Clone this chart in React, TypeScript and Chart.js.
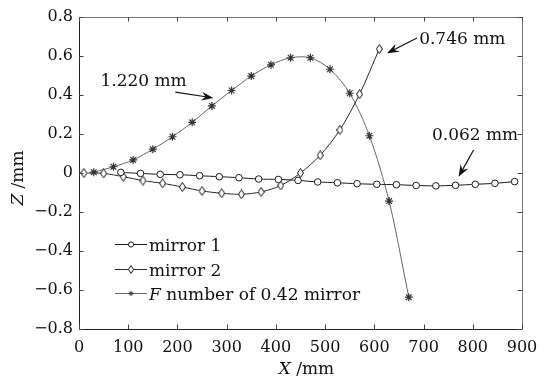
import React, { useEffect, useRef } from "react";
import { Chart, registerables } from "chart.js";

Chart.register(...registerables);

// ---- data ----
const mirror1X = [85, 125, 165, 205, 245, 285, 325, 365, 405, 445, 485, 525, 565, 605, 645, 685, 725, 765, 805, 845, 885];
const mirror1Z = [0.003, -0.002, -0.007, -0.009, -0.014, -0.019, -0.024, -0.031, -0.033, -0.038, -0.046, -0.05, -0.055, -0.058, -0.06, -0.064, -0.066, -0.063, -0.058, -0.053, -0.044];

const mirror2X = [10, 50, 90, 130, 170, 210, 250, 290, 330, 370, 410, 450, 490, 530, 570, 610];
const mirror2Z = [0, -0.002, -0.019, -0.039, -0.053, -0.072, -0.092, -0.104, -0.109, -0.097, -0.064, 0.0, 0.091, 0.221, 0.404, 0.636];

const fNumX = [30, 70, 110, 150, 190, 230, 270, 310, 350, 390, 430, 470, 510, 550, 590, 630, 670];
const fNumZ = [0.004, 0.032, 0.067, 0.122, 0.186, 0.26, 0.344, 0.423, 0.497, 0.555, 0.591, 0.591, 0.532, 0.409, 0.191, -0.144, -0.637];

const xTickValues = [0, 100, 200, 300, 400, 500, 600, 700, 800, 900];
const xTickLabels = ["0", "100", "200", "300", "400", "500", "600", "700", "800", "900"];
const yTickValues = [-0.8, -0.6, -0.4, -0.2, 0, 0.2, 0.4, 0.6, 0.8];
const yTickLabels = ["\u22120.8", "\u22120.6", "\u22120.4", "\u22120.2", "0", "0.2", "0.4", "0.6", "0.8"];

const legendItalic = ["", "", "F"];
const legendText = ["mirror 1", "mirror 2", " number of 0.42 mirror"];

const noteTexts = ["1.220 mm", "0.746 mm", "0.062 mm"];
// text anchor (left, middle) and arrow tail/tip, in data units
const noteTextPos = [[43.5, 0.467], [691, 0.682], [717, 0.19]];
const noteTail = [[195.6, 0.415], [686.7, 0.692], [801.7, 0.118]];
const noteTip = [[272.9, 0.385], [625.8, 0.614], [771.2, -0.019]];

const SERIF = '"DejaVu Serif", serif';

function makeDiamond(w: number, h: number, stroke: string, fill: string) {
  const c = document.createElement("canvas");
  c.width = w;
  c.height = h;
  const ctx = c.getContext("2d")!;
  ctx.beginPath();
  ctx.moveTo(w / 2, 0.5);
  ctx.lineTo(w - 0.5, h / 2);
  ctx.lineTo(w / 2, h - 0.5);
  ctx.lineTo(0.5, h / 2);
  ctx.closePath();
  ctx.fillStyle = fill;
  ctx.fill();
  ctx.strokeStyle = stroke;
  ctx.lineWidth = 1;
  ctx.stroke();
  return c;
}

function drawArrow(ctx: CanvasRenderingContext2D, x1: number, y1: number, x2: number, y2: number) {
  const a = Math.atan2(y2 - y1, x2 - x1);
  const c = Math.cos(a), s = Math.sin(a);
  const L = 12, W = 4.5;
  ctx.beginPath();
  ctx.moveTo(x1, y1);
  ctx.lineTo(x2 - 6 * c, y2 - 6 * s);
  ctx.stroke();
  ctx.beginPath();
  ctx.moveTo(x2, y2);
  ctx.lineTo(x2 - L * c + W * s, y2 - L * s - W * c);
  ctx.lineTo(x2 - 0.65 * L * c, y2 - 0.65 * L * s);
  ctx.lineTo(x2 - L * c - W * s, y2 - L * s + W * c);
  ctx.closePath();
  ctx.fill();
}

function drawStar(ctx: CanvasRenderingContext2D, x: number, y: number, r: number) {
  ctx.beginPath();
  ctx.moveTo(x - r, y);
  ctx.lineTo(x + r, y);
  ctx.moveTo(x, y - r);
  ctx.lineTo(x, y + r);
  const d = r * 0.707;
  ctx.moveTo(x - d, y - d);
  ctx.lineTo(x + d, y + d);
  ctx.moveTo(x - d, y + d);
  ctx.lineTo(x + d, y - d);
  ctx.stroke();
}

const decorPlugin = {
  id: "decor",
  afterDraw(chart: any) {
    const ctx: CanvasRenderingContext2D = chart.ctx;
    const area = chart.chartArea;
    const xs = chart.scales.x;
    const ys = chart.scales.y;
    ctx.save();

    // frame
    ctx.lineWidth = 1;
    ctx.strokeStyle = "#777";
    ctx.beginPath();
    ctx.moveTo(area.left, area.top + 0.5);
    ctx.lineTo(area.right + 0.5, area.top + 0.5);
    ctx.lineTo(area.right + 0.5, area.bottom);
    ctx.stroke();
    ctx.strokeStyle = "#222";
    ctx.beginPath();
    ctx.moveTo(area.left + 0.5, area.top);
    ctx.lineTo(area.left + 0.5, area.bottom + 0.5);
    ctx.lineTo(area.right + 0.5, area.bottom + 0.5);
    ctx.stroke();

    // inward ticks
    const tl = 4.5;
    ctx.strokeStyle = "#444";
    ctx.beginPath();
    xTickValues.forEach((v) => {
      const px = Math.round(xs.getPixelForValue(v)) + 0.5;
      ctx.moveTo(px, area.bottom);
      ctx.lineTo(px, area.bottom - tl);
      ctx.moveTo(px, area.top);
      ctx.lineTo(px, area.top + tl);
    });
    yTickValues.forEach((v) => {
      const py = Math.round(ys.getPixelForValue(v)) + 0.5;
      ctx.moveTo(area.left, py);
      ctx.lineTo(area.left + tl, py);
      ctx.moveTo(area.right, py);
      ctx.lineTo(area.right - tl, py);
    });
    ctx.stroke();

    // axis titles
    ctx.fillStyle = "#111";
    ctx.textBaseline = "middle";
    ctx.font = `italic 17px ${SERIF}`;
    const xi = "X";
    const xr = " /mm";
    const wi = ctx.measureText(xi).width;
    ctx.font = `17px ${SERIF}`;
    const wr = ctx.measureText(xr).width;
    let sx = (area.left + area.right) / 2 + 6 - (wi + wr) / 2;
    ctx.font = `italic 17px ${SERIF}`;
    ctx.textAlign = "left";
    ctx.fillText(xi, sx, 370);
    ctx.font = `17px ${SERIF}`;
    ctx.fillText(xr, sx + wi, 370);

    ctx.save();
    ctx.translate(19, (area.top + area.bottom) / 2 + 5);
    ctx.rotate(-Math.PI / 2);
    ctx.font = `italic 17px ${SERIF}`;
    const zi = "Z";
    const zw = ctx.measureText(zi).width;
    ctx.font = `17px ${SERIF}`;
    const zrw = ctx.measureText(xr).width;
    const zs = -(zw + zrw) / 2;
    ctx.font = `italic 17px ${SERIF}`;
    ctx.fillText(zi, zs, 0);
    ctx.font = `17px ${SERIF}`;
    ctx.fillText(xr, zs + zw, 0);
    ctx.restore();

    // annotations
    ctx.fillStyle = "#111";
    ctx.strokeStyle = "#111";
    ctx.lineWidth = 1.2;
    ctx.font = `17px ${SERIF}`;
    noteTexts.forEach((t, i) => {
      const tx = xs.getPixelForValue(noteTextPos[i][0]);
      const ty = ys.getPixelForValue(noteTextPos[i][1]);
      ctx.fillText(t, tx, ty);
      drawArrow(
        ctx,
        xs.getPixelForValue(noteTail[i][0]),
        ys.getPixelForValue(noteTail[i][1]),
        xs.getPixelForValue(noteTip[i][0]),
        ys.getPixelForValue(noteTip[i][1])
      );
    });

    // legend
    const lx0 = area.left + 36;
    const lx1 = area.left + 68;
    const lm = (lx0 + lx1) / 2;
    const rows = [area.top + 227, area.top + 252, area.top + 276];
    const ds = chart.data.datasets;
    rows.forEach((ry, i) => {
      const d = ds[i];
      ctx.strokeStyle = d.borderColor;
      ctx.lineWidth = 1;
      ctx.beginPath();
      ctx.moveTo(lx0, ry + 0.5);
      ctx.lineTo(lx1, ry + 0.5);
      ctx.stroke();
      ctx.strokeStyle = d.pointBorderColor;
      ctx.fillStyle = "#fff";
      if (i === 0) {
        ctx.beginPath();
        ctx.arc(lm, ry + 0.5, 2.6, 0, Math.PI * 2);
        ctx.fill();
        ctx.stroke();
      } else if (i === 1) {
        ctx.beginPath();
        ctx.moveTo(lm, ry - 3.5);
        ctx.lineTo(lm + 2.5, ry + 0.5);
        ctx.lineTo(lm, ry + 4.5);
        ctx.lineTo(lm - 2.5, ry + 0.5);
        ctx.closePath();
        ctx.fill();
        ctx.stroke();
      } else {
        drawStar(ctx, lm, ry + 0.5, 2.5);
      }
      ctx.fillStyle = "#111";
      ctx.textAlign = "left";
      let tx = lx1 + 2;
      const ty = ry + 3;
      if (legendItalic[i]) {
        ctx.font = `italic 17px ${SERIF}`;
        ctx.fillText(legendItalic[i], tx, ty);
        tx += ctx.measureText(legendItalic[i]).width;
      }
      ctx.font = `17px ${SERIF}`;
      ctx.fillText(legendText[i], tx, ty);
    });

    ctx.restore();
  },
};

export default function App() {
  const ref = useRef<HTMLCanvasElement | null>(null);

  useEffect(() => {
    document.body.style.margin = "0";
    const canvas = ref.current;
    if (!canvas) return;
    const diamond = makeDiamond(7, 10, "#111", "#fff");
    const toPts = (xs: number[], zs: number[]) => xs.map((x, i) => ({ x, y: zs[i] }));

    const chart = new Chart(canvas, {
      type: "line",
      data: {
        datasets: [
          {
            label: "mirror 1",
            data: toPts(mirror1X, mirror1Z),
            borderColor: "#1a1a1a",
            borderWidth: 1,
            pointStyle: "circle",
            pointRadius: 3.3,
            pointBorderWidth: 1,
            pointBorderColor: "#1a1a1a",
            pointBackgroundColor: "#fff",
            tension: 0.3,
          },
          {
            label: "mirror 2",
            data: toPts(mirror2X, mirror2Z),
            borderColor: "#2a2a2a",
            borderWidth: 1,
            pointStyle: diamond as any,
            pointRadius: 4,
            pointBorderColor: "#1a1a1a",
            pointBackgroundColor: "#fff",
            tension: 0.3,
          },
          {
            label: "F number of 0.42 mirror",
            data: toPts(fNumX, fNumZ),
            borderColor: "#666",
            borderWidth: 1,
            pointStyle: "star",
            pointRadius: 4,
            pointBorderWidth: 1.2,
            pointBorderColor: "#333",
            pointBackgroundColor: "#333",
            tension: 0.3,
          },
        ],
      },
      options: {
        animation: false,
        responsive: true,
        maintainAspectRatio: false,
        layout: { padding: { top: 17, right: 31, left: 0, bottom: 0 } },
        plugins: {
          legend: { display: false },
          tooltip: { enabled: false },
        },
        scales: {
          x: {
            type: "linear",
            min: 0,
            max: 900,
            grid: { display: false, drawTicks: false },
            border: { display: false },
            afterBuildTicks: (s: any) => {
              s.ticks = xTickValues.map((v) => ({ value: v }));
            },
            afterFit: (s: any) => {
              s.height = 51;
            },
            ticks: {
              padding: 9,
              color: "#111",
              font: { family: SERIF, size: 16 },
              maxRotation: 0,
              autoSkip: false,
              callback: (_v: any, i: number) => xTickLabels[i],
            },
          },
          y: {
            type: "linear",
            min: -0.8,
            max: 0.8,
            grid: { display: false, drawTicks: false },
            border: { display: false },
            afterBuildTicks: (s: any) => {
              s.ticks = yTickValues.map((v) => ({ value: v }));
            },
            afterFit: (s: any) => {
              s.width = 79;
            },
            ticks: {
              padding: 6,
              color: "#111",
              font: { family: SERIF, size: 16 },
              autoSkip: false,
              callback: (_v: any, i: number) => yTickLabels[i],
            },
          },
        },
      },
      plugins: [decorPlugin],
    });
    return () => chart.destroy();
  }, []);

  return (
    <div style={{ width: 553, height: 380, position: "relative", background: "#fff" }}>
      <canvas ref={ref} />
    </div>
  );
}
